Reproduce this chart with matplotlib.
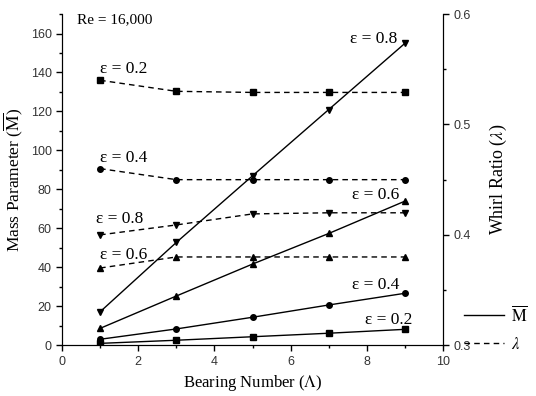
import matplotlib
matplotlib.use("Agg")
import matplotlib.pyplot as plt
from matplotlib.ticker import MultipleLocator
from matplotlib.lines import Line2D

plt.rcParams["mathtext.fontset"] = "stix"

# bearing numbers
bearing = [1, 3, 5, 7, 9]

# mass parameter (solid lines, left axis)
mass_02 = [1.0, 2.6, 4.4, 6.2, 8.2]
mass_04 = [3.1, 8.4, 14.4, 20.7, 26.7]
mass_06 = [8.7, 25.3, 41.7, 57.4, 74.0]
mass_08 = [17.2, 52.8, 87.0, 121.0, 155.0]

# whirl ratio (dashed lines, right axis)
whirl_02 = [0.540, 0.530, 0.529, 0.529, 0.529]
whirl_04 = [0.460, 0.450, 0.450, 0.450, 0.450]
whirl_06 = [0.370, 0.380, 0.380, 0.380, 0.380]
whirl_08 = [0.400, 0.409, 0.419, 0.420, 0.420]

markers = {"0.2": "s", "0.4": "o", "0.6": "^", "0.8": "v"}
serif = "Liberation Serif"
sans = "Liberation Sans"

fig = plt.figure(figsize=(5.36, 3.96), dpi=100)
ax = fig.add_axes([0.1157, 0.128, 0.711, 0.8366])
ax2 = ax.twinx()

for key, m in [("0.2", mass_02), ("0.4", mass_04), ("0.6", mass_06), ("0.8", mass_08)]:
    ax.plot(bearing, m, color="black", lw=1.0, marker=markers[key], ms=4)

for key, w in [("0.2", whirl_02), ("0.4", whirl_04), ("0.6", whirl_06), ("0.8", whirl_08)]:
    ax2.plot(bearing, w, color="black", lw=1.0, ls=(0, (4, 3)), marker=markers[key], ms=4)

ax.set_xlim(0, 10)
ax.set_ylim(0, 170)
ax2.set_ylim(0.3, 0.6)

ax.xaxis.set_major_locator(MultipleLocator(2))
ax.xaxis.set_minor_locator(MultipleLocator(1))
ax.yaxis.set_major_locator(MultipleLocator(20))
ax.yaxis.set_minor_locator(MultipleLocator(10))
ax2.yaxis.set_major_locator(MultipleLocator(0.1))
ax2.yaxis.set_minor_locator(MultipleLocator(0.05))

for a in (ax, ax2):
    a.spines["top"].set_visible(False)
    a.tick_params(which="major", direction="out", length=4, width=1, labelsize=9)
    a.tick_params(which="minor", direction="out", length=2, width=1)
    for lab in a.get_xticklabels() + a.get_yticklabels():
        lab.set_fontfamily(sans)
        lab.set_color("#333333")

ax.set_xlabel(r"Bearing Number ($\Lambda$)", fontfamily=serif, fontsize=12, labelpad=4)
ax.set_ylabel(r"Mass Parameter ($\overline{\mathrm{M}}$)", fontfamily=serif, fontsize=12.5, labelpad=4)
ax2.set_ylabel(r"Whirl Ratio ($\lambda$)", fontfamily=serif, fontsize=13, labelpad=12)

ax.text(0.4, 167, "Re = 16,000", fontfamily=serif, fontsize=11, va="center")

lbl = dict(fontfamily=serif, fontsize=12.5, va="center")
ax.text(1.0, 142, "ε = 0.2", ha="left", **lbl)
ax.text(1.0, 96, "ε = 0.4", ha="left", **lbl)
ax.text(0.9, 65, "ε = 0.8", ha="left", **lbl)
ax.text(1.0, 46.5, "ε = 0.6", ha="left", **lbl)
ax.text(8.8, 157, "ε = 0.8", ha="right", **lbl)
ax.text(8.85, 77, "ε = 0.6", ha="right", **lbl)
ax.text(8.85, 31, "ε = 0.4", ha="right", **lbl)
ax.text(9.2, 13, "ε = 0.2", ha="right", **lbl)

handles = [Line2D([], [], color="black", lw=1.0),
           Line2D([], [], color="black", lw=1.0, ls=(0, (4, 3)))]
fig.legend(handles, [r"$\overline{\mathrm{M}}$", r"$\lambda$"], loc="lower left",
           bbox_to_anchor=(0.86, 0.1), frameon=False, fontsize=12,
           handlelength=2.4, handletextpad=0.4, labelspacing=0.6,
           borderpad=0.2, borderaxespad=0.0)

fig.savefig("out.png", dpi=100)
